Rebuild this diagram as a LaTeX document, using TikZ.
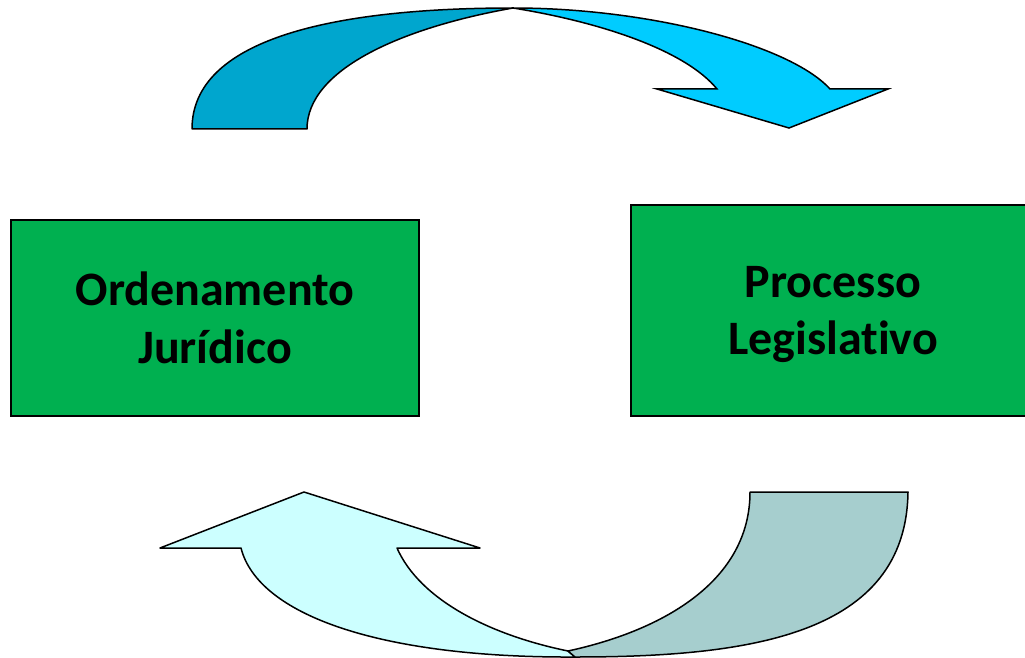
\documentclass[tikz,border=0pt]{standalone}
\usepackage{fontspec}
\setmainfont[Ligatures=NoCommon]{Carlito}
\definecolor{tailblue}{HTML}{00A6CE}
\definecolor{headblue}{HTML}{00CCFF}
\definecolor{paleblue}{HTML}{CCFFFF}
\definecolor{greyteal}{HTML}{A6CECE}
\definecolor{boxgreen}{HTML}{00B050}
\tikzset{
  boxnode/.style={draw=black, fill=boxgreen, line width=1.5pt, align=center,
    font=\fontsize{48}{57.6}\selectfont\bfseries, inner sep=0pt},
  arrowshape/.style={draw=black, line width=1.5pt, line join=miter}
}
\begin{document}
\begin{tikzpicture}[x=1pt,y=-1pt]
\useasboundingbox (0,0) rectangle (1025,658);
\clip (0,0) rectangle (1025,658);
% top curved arrow: tail part
\filldraw[arrowshape, fill=tailblue, line join=bevel] (192,129) .. controls (192,40) and (330,8) .. (513,8)
  .. controls (400,28) and (307,70) .. (307,129) -- cycle;
% top curved arrow: head part
\filldraw[arrowshape, fill=headblue] (513,8) .. controls (650,8) and (790,45) .. (830,89)
  -- (888,89) -- (789,128) -- (657,89) -- (717,89)
  .. controls (685,50) and (600,22) .. (513,8) -- cycle;
% bottom curved arrow: head part
\filldraw[arrowshape, fill=paleblue, line join=round] (304,492) -- (480,548) -- (397,548)
  .. controls (420,600) and (490,635) .. (568,651) -- (575,657)
  .. controls (380,658) and (258,615) .. (241,548) -- (160,548) -- cycle;
% bottom curved arrow: tail part
\filldraw[arrowshape, fill=greyteal, line join=round] (750,492) -- (908,492)
  .. controls (906,635) and (750,657) .. (575,657) -- (568,651)
  .. controls (665,630) and (750,580) .. (750,492) -- cycle;
% boxes
\node[boxnode, minimum width=408pt, minimum height=196pt] (ord) at (215,318)
  {Ordenamento\\Jurídico};
\node[boxnode, minimum width=404pt, minimum height=211pt, text depth=0pt] (proc) at (833,310.5)
  {\raisebox{0pt}{}Processo\\Legislativo};
\end{tikzpicture}
\end{document}
